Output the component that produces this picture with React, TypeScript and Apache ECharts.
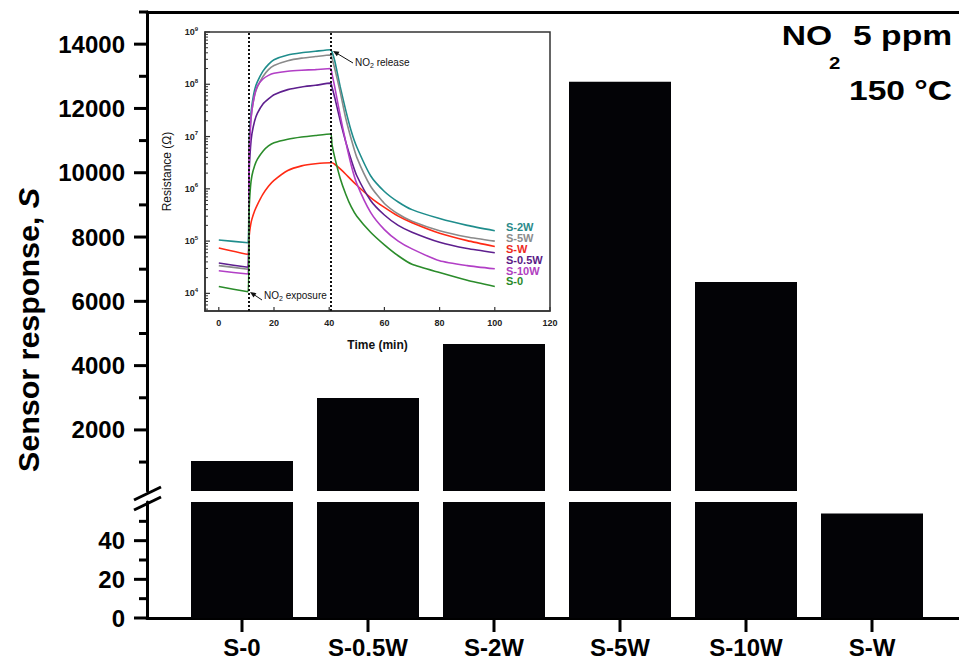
import React, { useEffect, useRef } from 'react';
import * as echarts from 'echarts';

// ---------- main bar chart data ----------
const CATEGORIES = ['S-0', 'S-0.5W', 'S-2W', 'S-5W', 'S-10W', 'S-W'];
const RESPONSE = [1030, 2990, 4670, 12830, 6600, 54];
// ticks of the broken y axis
const UPPER_TICKS = [2000, 4000, 6000, 8000, 10000, 12000, 14000];
const UPPER_MINOR_TICKS = [1000, 3000, 5000, 7000, 9000, 11000, 13000, 15000];
const LOWER_TICKS = [0, 20, 40];
const LOWER_MINOR_TICKS = [10, 30, 50];

// ---------- inset data (resistance in ohm vs time in min) ----------
const TIME = [0, 10.6, 11, 11.5, 12, 13, 14, 16, 18, 20, 25, 30, 35, 40.5, 41, 42, 44, 46, 48, 50, 55, 60, 65, 70, 80, 90, 100];
const R_S2W = [1.05e5, 9.3e4, 7.9e6, 2.24e7, 4.0e7, 7.9e7, 1.12e8, 1.78e8, 2.4e8, 2.95e8, 3.63e8, 4.0e8, 4.27e8, 4.57e8, 4.17e8, 2.82e8, 8.9e7, 3.16e7, 1.26e7, 6.3e6, 1.78e6, 8.9e5, 5.6e5, 4.0e5, 2.7e5, 2.0e5, 1.58e5];
const R_S5W = [3.4e4, 2.9e4, 6.3e6, 1.78e7, 3.16e7, 6.3e7, 8.9e7, 1.41e8, 1.91e8, 2.29e8, 2.82e8, 3.16e8, 3.39e8, 3.63e8, 3.16e8, 2.0e8, 7.1e7, 2.24e7, 8.9e6, 4.0e6, 1.12e6, 5.25e5, 3.3e5, 2.4e5, 1.58e5, 1.2e5, 1.0e5];
const R_SW = [7.4e4, 5.6e4, 1.26e5, 2.0e5, 2.63e5, 3.8e5, 5.0e5, 7.9e5, 1.12e6, 1.45e6, 2.24e6, 2.75e6, 3.02e6, 3.16e6, 3.16e6, 2.95e6, 2.4e6, 1.9e6, 1.48e6, 1.17e6, 6.8e5, 4.4e5, 3.0e5, 2.24e5, 1.41e5, 1.02e5, 7.9e4];
const R_S05W = [3.8e4, 3.16e4, 2.0e6, 6.3e6, 1.12e7, 2.0e7, 2.8e7, 4.2e7, 5.25e7, 6.3e7, 7.9e7, 8.9e7, 9.55e7, 1.05e8, 8.9e7, 5.6e7, 2.0e7, 7.9e6, 3.55e6, 1.78e6, 6.0e5, 3.16e5, 2.0e5, 1.48e5, 9.5e4, 7.2e4, 6.0e4];
const R_S10W = [2.7e4, 2.34e4, 4.0e6, 1.58e7, 3.16e7, 6.3e7, 9.3e7, 1.26e8, 1.48e8, 1.62e8, 1.78e8, 1.86e8, 1.91e8, 2.0e8, 1.58e8, 8.9e7, 2.5e7, 7.9e6, 2.8e6, 1.26e6, 3.55e5, 1.66e5, 1.0e5, 7.1e4, 4.2e4, 3.4e4, 2.95e4];
const R_S0 = [1.35e4, 1.07e4, 4.0e5, 1.12e6, 1.78e6, 2.8e6, 3.7e6, 5.25e6, 6.6e6, 7.6e6, 8.9e6, 9.8e6, 1.05e7, 1.12e7, 7.1e6, 4.0e6, 1.58e6, 7.9e5, 4.5e5, 3.0e5, 1.48e5, 8.5e4, 5.25e4, 3.6e4, 2.5e4, 1.78e4, 1.35e4];
const INSET_NAMES = ['S-2W', 'S-5W', 'S-W', 'S-0.5W', 'S-10W', 'S-0'];
const INSET_SERIES = [R_S2W, R_S5W, R_SW, R_S05W, R_S10W, R_S0];
const INSET_X_TICKS = [0, 20, 40, 60, 80, 100, 120];
const INSET_DECADES = [1e4, 1e5, 1e6, 1e7, 1e8, 1e9];
const EXPOSURE_T = 10.8;
const RELEASE_T = 40.4;

const FONT = '"Liberation Sans", Arial, Helvetica, sans-serif';
const LINE_COLORS = ['#1f8d8c', '#8a8a8a', '#ff2a14', '#5e1f8e', '#b23fc6', '#2b8c2b'];
const LABEL_COLORS = ['#2a8a8a', '#8c8c8c', '#ee2a1e', '#5a1a86', '#b040c0', '#2a8a2a'];

// axis extents
const UP_MIN = 100, UP_MAX = 15000, LO_MIN = 0, LO_MAX = 60;
const IN_XMIN = -5, IN_XMAX = 120, IN_YMIN = 4600, IN_YMAX = 1e9;

// layout (pixels)
const MAIN_LEFT = 147, MAIN_WIDTH = 812;
const BAR_LEFT = 179, BAR_WIDTH_AREA = 756;
const UP_TOP = 12, UP_BOTTOM = 491, LO_TOP = 502, LO_BOTTOM = 618;
const IN_LEFT = 205, IN_TOP = 32, IN_W = 345, IN_H = 279;

// the same linear / log mappings the grids use
const upY = (v: number) => UP_TOP + ((UP_MAX - v) * (UP_BOTTOM - UP_TOP)) / (UP_MAX - UP_MIN);
const loY = (v: number) => LO_TOP + ((LO_MAX - v) * (LO_BOTTOM - LO_TOP)) / (LO_MAX - LO_MIN);
const inScale = IN_W / (IN_XMAX - IN_XMIN);
const inX = (t: number) => IN_LEFT + (t - IN_XMIN) * inScale;
const inY = (r: number) => IN_TOP + ((Math.log10(IN_YMAX) - Math.log10(r)) * IN_H) / (Math.log10(IN_YMAX) - Math.log10(IN_YMIN));
const catX = (i: number) => BAR_LEFT + ((i + 0.5) * BAR_WIDTH_AREA) / CATEGORIES.length;

function arrow(tx: number, ty: number, hx: number, hy: number) {
  const dx = hx - tx, dy = hy - ty;
  const L = Math.sqrt(dx * dx + dy * dy);
  const ux = dx / L, uy = dy / L;
  const px = -uy, py = ux;
  const len = 6, w = 2.6;
  return [
    { type: 'line', shape: { x1: tx, y1: ty, x2: hx - ux * 3, y2: hy - uy * 3 }, style: { stroke: '#111', lineWidth: 1 }, z: 100 },
    {
      type: 'polygon',
      shape: { points: [[hx, hy], [hx - ux * len + px * w, hy - uy * len + py * w], [hx - ux * len - px * w, hy - uy * len - py * w]] },
      style: { fill: '#111' }, z: 100,
    },
  ];
}

function minorLogTicks() {
  const out: number[] = [];
  for (let k = 3; k <= 8; k++) {
    for (let m = 2; m <= 9; m++) {
      const v = m * Math.pow(10, k);
      if (v >= IN_YMIN && v <= IN_YMAX) out.push(v);
    }
  }
  return out;
}

// tick marks drawn as filled rectangles
function tickGraphics() {
  const out: any[] = [];
  const box = (x: number, y: number, width: number, height: number, c: string) =>
    out.push({ type: 'rect', z: 95, shape: { x, y, width, height }, style: { fill: c } });
  UPPER_TICKS.forEach((v) => box(MAIN_LEFT - 13, upY(v) - 1.5, 14, 3, '#000'));
  UPPER_MINOR_TICKS.forEach((v) => box(MAIN_LEFT - 8, upY(v) - 1.5, 9, 3, '#000'));
  LOWER_TICKS.forEach((v) => box(MAIN_LEFT - 13, loY(v) - 1.5, 14, 3, '#000'));
  LOWER_MINOR_TICKS.forEach((v) => box(MAIN_LEFT - 8, loY(v) - 1.5, 9, 3, '#000'));
  CATEGORIES.forEach((_, i) => box(catX(i) - 1.5, LO_BOTTOM, 3, 14, '#000'));
  INSET_DECADES.forEach((v) => box(IN_LEFT, inY(v) - 0.6, 5, 1.2, '#333'));
  minorLogTicks().forEach((v) => box(IN_LEFT, inY(v) - 0.5, 3, 1, '#333'));
  INSET_X_TICKS.forEach((t) => box(inX(t) - 0.6, IN_TOP + IN_H - 4, 1.2, 4, '#333'));
  return out;
}

function buildOption() {
  const mainLine = { show: true, onZero: false, lineStyle: { color: '#000', width: 3 } };
  const noSplit = { show: false };
  const hiddenX = (gridIndex: number) => ({ gridIndex, type: 'value', show: false, min: 0, max: 1 });
  const mainLabel = { fontSize: 24, fontWeight: 'bold', color: '#000', margin: 22, fontFamily: FONT, showMinLabel: true, showMaxLabel: true, formatter: (v: number) => String(v) };

  const legendY = [227, 238, 248.5, 259.5, 270.5, 281];
  const in0 = inX(0);
  const vGrid = (top: number, bottom: number, left = MAIN_LEFT, width = MAIN_WIDTH) => ({ left, width, top, height: bottom - top });
  const step = (a: number[]) => a[1] - a[0];

  return {
    animation: false,
    backgroundColor: '#fff',
    textStyle: { fontFamily: FONT },
    grid: [
      vGrid(UP_TOP, UP_BOTTOM), // 0 upper frame
      vGrid(LO_TOP, LO_BOTTOM), // 1 lower frame
      vGrid(upY(UPPER_TICKS[UPPER_TICKS.length - 1]), upY(UPPER_TICKS[0])), // 2 upper labels
      vGrid(LO_TOP, LO_BOTTOM), // 3 spare
      vGrid(loY(LOWER_TICKS[LOWER_TICKS.length - 1]), loY(LOWER_TICKS[0])), // 4 lower labels
      vGrid(LO_TOP, LO_BOTTOM), // 5 spare
      vGrid(UP_TOP, UP_BOTTOM, BAR_LEFT, BAR_WIDTH_AREA), // 6 upper bars
      vGrid(LO_TOP, LO_BOTTOM, BAR_LEFT, BAR_WIDTH_AREA), // 7 lower bars
      { left: IN_LEFT, top: IN_TOP, width: IN_W, height: IN_H, show: true, borderColor: '#333', borderWidth: 1.5, backgroundColor: 'transparent' }, // 8 inset frame
      { left: in0, top: IN_TOP, width: IN_XMAX * inScale, height: IN_H }, // 9 inset data
    ],
    xAxis: [
      { gridIndex: 0, type: 'value', min: 0, max: 1, position: 'top', axisLine: mainLine, axisTick: { show: false }, axisLabel: { show: false }, splitLine: noSplit },
      { gridIndex: 1, type: 'value', min: 0, max: 1, position: 'bottom', axisLine: mainLine, axisTick: { show: false }, axisLabel: { show: false }, splitLine: noSplit },
      hiddenX(2), hiddenX(3), hiddenX(4), hiddenX(5),
      { gridIndex: 6, type: 'category', data: CATEGORIES, show: false },
      {
        gridIndex: 7, type: 'category', data: CATEGORIES, position: 'bottom',
        axisLine: { show: false, onZero: false },
        axisTick: { show: false },
        axisLabel: { fontSize: 24, fontWeight: 'bold', color: '#000', margin: 17, fontFamily: FONT, interval: 0 },
        splitLine: noSplit,
      },
      {
        gridIndex: 8, type: 'value', min: IN_XMIN, max: IN_XMAX,
        axisLine: { show: true, onZero: false, lineStyle: { color: '#333', width: 1.5 } },
        axisTick: { show: false }, axisLabel: { show: false }, splitLine: noSplit,
        name: 'Time (min)', nameLocation: 'middle', nameGap: 28,
        nameTextStyle: { fontSize: 12, fontWeight: 'bold', color: '#111', fontFamily: FONT },
      },
      {
        gridIndex: 9, type: 'value', min: 0, max: IN_XMAX, interval: step(INSET_X_TICKS),
        axisLine: { show: false, onZero: false },
        axisTick: { show: false },
        axisLabel: { fontSize: 9, fontWeight: 'bold', color: '#222', margin: 7, fontFamily: FONT, showMinLabel: true, showMaxLabel: true },
        splitLine: noSplit,
      },
    ],
    yAxis: [
      { gridIndex: 0, type: 'value', min: UP_MIN, max: UP_MAX, axisLine: mainLine, axisTick: { show: false }, axisLabel: { show: false }, splitLine: noSplit },
      { gridIndex: 1, type: 'value', min: LO_MIN, max: LO_MAX, axisLine: mainLine, axisTick: { show: false }, axisLabel: { show: false }, splitLine: noSplit },
      {
        gridIndex: 2, type: 'value', min: UPPER_TICKS[0], max: UPPER_TICKS[UPPER_TICKS.length - 1], interval: step(UPPER_TICKS),
        axisLine: { show: false, onZero: false }, axisTick: { show: false },
        axisLabel: mainLabel, splitLine: noSplit,
      },
      { gridIndex: 3, type: 'value', show: false, min: 0, max: 1 },
      {
        gridIndex: 4, type: 'value', min: LOWER_TICKS[0], max: LOWER_TICKS[LOWER_TICKS.length - 1], interval: step(LOWER_TICKS),
        axisLine: { show: false, onZero: false }, axisTick: { show: false },
        axisLabel: mainLabel, splitLine: noSplit,
      },
      { gridIndex: 5, type: 'value', show: false, min: 0, max: 1 },
      { gridIndex: 6, type: 'value', min: UP_MIN, max: UP_MAX, show: false, splitLine: noSplit },
      { gridIndex: 7, type: 'value', min: LO_MIN, max: LO_MAX, show: false, splitLine: noSplit },
      {
        gridIndex: 8, type: 'log', logBase: 10, min: IN_YMIN, max: IN_YMAX,
        axisLine: { show: true, onZero: false, lineStyle: { color: '#333', width: 1.5 } },
        axisTick: { show: false },
        axisLabel: {
          margin: 7, showMinLabel: true, showMaxLabel: true,
          formatter: (v: number) => {
            const e = Math.log10(v);
            if (Math.abs(e - Math.round(e)) > 1e-6) return '';
            return `{b|10}{s|${Math.round(e)}}`;
          },
          rich: {
            b: { fontSize: 9, fontWeight: 'bold', color: '#222', fontFamily: FONT },
            s: { fontSize: 6, fontWeight: 'bold', color: '#222', fontFamily: FONT, padding: [0, 0, 7, 0] },
          },
        },
        splitLine: noSplit, minorTick: { show: false },
        name: 'Resistance (Ω)', nameLocation: 'middle', nameGap: 32,
        nameTextStyle: { fontSize: 12, color: '#111', fontFamily: FONT },
      },
      { gridIndex: 9, type: 'log', logBase: 10, min: IN_YMIN, max: IN_YMAX, show: false, splitLine: noSplit },
    ],
    series: [
      {
        type: 'bar', xAxisIndex: 6, yAxisIndex: 6, barWidth: 102, clip: true, silent: true,
        itemStyle: { color: '#030306' },
        data: RESPONSE.map((v) => (v > UP_MIN ? v : '-')),
      },
      {
        type: 'bar', xAxisIndex: 7, yAxisIndex: 7, barWidth: 102, clip: true, silent: true,
        itemStyle: { color: '#030306' },
        data: RESPONSE,
      },
      ...INSET_SERIES.map((arr, si) => ({
        type: 'line', name: INSET_NAMES[si], xAxisIndex: 9, yAxisIndex: 9,
        data: TIME.map((t, i) => [t, arr[i]]),
        showSymbol: false, symbol: 'none', smooth: 0.2, silent: true,
        lineStyle: { width: 1.6, color: LINE_COLORS[si] }, itemStyle: { color: LINE_COLORS[si] },
        z: 3,
        markLine: si === 0 ? {
          silent: true, symbol: ['none', 'none'], label: { show: false },
          lineStyle: { type: 'dotted', color: '#111', width: 2 },
          data: [{ xAxis: EXPOSURE_T }, { xAxis: RELEASE_T }],
        } : undefined,
      })),
    ],
    graphic: [
      // tick marks of all axes
      ...tickGraphics(),
      // axis break marks
      { type: 'line', shape: { x1: 134, y1: 500, x2: 161, y2: 487 }, style: { stroke: '#000', lineWidth: 3 }, z: 100 },
      { type: 'line', shape: { x1: 134, y1: 510, x2: 161, y2: 497 }, style: { stroke: '#000', lineWidth: 3 }, z: 100 },
      // title (top right)
      { type: 'text', x: 832, y: 35, scaleX: 1.2, style: { text: 'NO', fontSize: 28, fontWeight: 'bold', fontFamily: FONT, fill: '#000', align: 'right', textAlign: 'right', verticalAlign: 'middle', textVerticalAlign: 'middle' }, z: 100 },
      { type: 'text', x: 829, y: 63, scaleX: 1.2, style: { text: '2', fontSize: 17, fontWeight: 'bold', fontFamily: FONT, fill: '#000', align: 'left', textAlign: 'left', verticalAlign: 'middle', textVerticalAlign: 'middle' }, z: 100 },
      { type: 'text', x: 952, y: 35, scaleX: 1.2, style: { text: '5 ppm', fontSize: 28, fontWeight: 'bold', fontFamily: FONT, fill: '#000', align: 'right', textAlign: 'right', verticalAlign: 'middle', textVerticalAlign: 'middle' }, z: 100 },
      { type: 'text', x: 952, y: 90, scaleX: 1.2, style: { text: '150 °C', fontSize: 28, fontWeight: 'bold', fontFamily: FONT, fill: '#000', align: 'right', textAlign: 'right', verticalAlign: 'middle', textVerticalAlign: 'middle' }, z: 100 },
      // y axis title
      {
        type: 'text', x: 29, y: 330, rotation: Math.PI / 2, scaleX: 1.05,
        style: {
          text: '{n|Sensor response, }{i|S}',
          rich: {
            n: { fontSize: 29, fontWeight: 'bold', fontFamily: FONT, fill: '#000' },
            i: { fontSize: 29, fontWeight: 'bold', fontStyle: 'italic', fontFamily: FONT, fill: '#000' },
          },
          align: 'center', textAlign: 'center', verticalAlign: 'middle', textVerticalAlign: 'middle',
        },
        z: 100,
      },
      // inset annotations
      {
        type: 'text', x: 264, y: 295,
        style: {
          text: '{a|NO}{b|2}{a| exposure}',
          rich: { a: { fontSize: 10, fontFamily: FONT, fill: '#111' }, b: { fontSize: 7, fontFamily: FONT, fill: '#111', padding: [7, 0, 0, 0] } },
          align: 'left', textAlign: 'left', verticalAlign: 'middle', textVerticalAlign: 'middle',
        },
        z: 100,
      },
      {
        type: 'text', x: 355, y: 62,
        style: {
          text: '{a|NO}{b|2}{a| release}',
          rich: { a: { fontSize: 10, fontFamily: FONT, fill: '#111' }, b: { fontSize: 7, fontFamily: FONT, fill: '#111', padding: [7, 0, 0, 0] } },
          align: 'left', textAlign: 'left', verticalAlign: 'middle', textVerticalAlign: 'middle',
        },
        z: 100,
      },
      ...arrow(262, 300, 250, 292),
      ...arrow(353, 63, 333, 51),
      // inset series labels
      ...INSET_NAMES.map((name, i) => ({
        type: 'text', x: 506, y: legendY[i],
        style: { text: name, fontSize: 11, fontWeight: 'bold', fontFamily: FONT, fill: LABEL_COLORS[i], align: 'left', textAlign: 'left', verticalAlign: 'middle', textVerticalAlign: 'middle' },
        z: 100,
      })),
    ],
  };
}

export default function App() {
  const ref = useRef<HTMLDivElement>(null);
  useEffect(() => {
    if (!ref.current) return;
    const chart = echarts.init(ref.current, null, { renderer: 'svg' });
    try {
      chart.setOption(buildOption() as any);
    } catch (e) {
      // keep whatever was drawn
    }
    return () => chart.dispose();
  }, []);
  return (
    <div
      ref={ref}
      style={{ position: 'fixed', left: 0, top: 0, width: 959, height: 661, background: '#fff' }}
    />
  );
}
